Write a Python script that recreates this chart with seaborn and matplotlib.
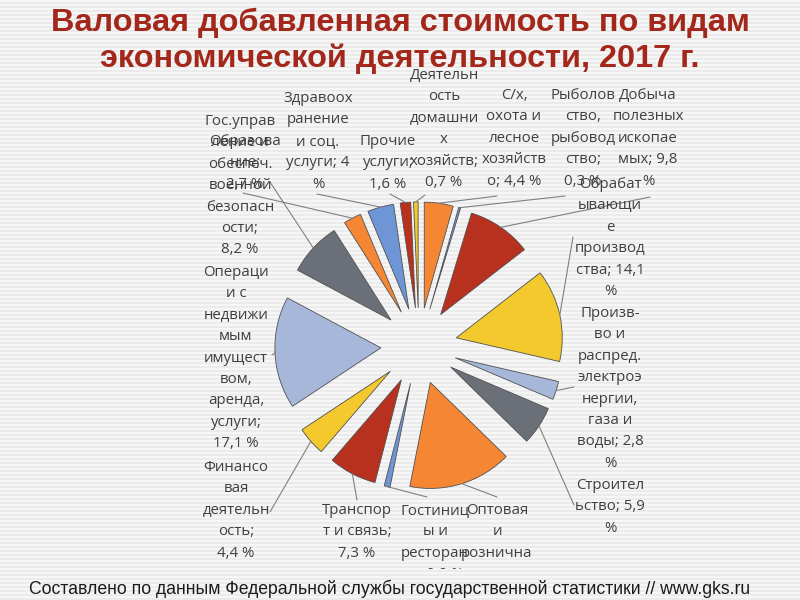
import numpy as np
import matplotlib
matplotlib.use("Agg")
import matplotlib.pyplot as plt
import seaborn as sns

sns.set_theme(style="white")
plt.rcParams['font.family'] = ['Open Sans', 'DejaVu Sans']

# ---------------- data ----------------
categories = [
    "С/х, охота и лесное хозяйство",
    "Рыболовство, рыбоводство",
    "Добыча полезных ископаемых",
    "Обрабатывающие производства",
    "Произв-во и распред. электроэнергии, газа и воды",
    "Строительство",
    "Оптовая и розничная торговля",
    "Гостиницы и рестораны",
    "Транспорт и связь",
    "Финансовая деятельность",
    "Операции с недвижимым имуществом, аренда, услуги",
    "Гос.управление и обеспеч. военной безопасности",
    "Образование",
    "Здравоохранение и соц. услуги",
    "Прочие услуги",
    "Деятельность домашних хозяйств",
]
shares = [4.4, 0.3, 9.8, 14.1, 2.8, 5.9, 15.8, 0.9, 7.3, 4.4, 17.1, 8.2, 2.7, 4.0, 1.6, 0.7]
label_texts = [
    "С/х,\nохота и\nлесное\nхозяйств\nо; 4,4 %",
    "Рыболов\nство,\nрыбовод\nство;\n0,3 %",
    "Добыча\nполезных\nископае\nмых; 9,8\n%",
    "Обрабат\nывающи\nе\nпроизвод\nства; 14,1\n%",
    "Произв-\nво и\nраспред.\nэлектроэ\nнергии,\nгаза и\nводы; 2,8\n%",
    "Строител\nьство; 5,9\n%",
    "Оптовая\nи\nрознична\nя\nторговля;\n15,8 %",
    "Гостиниц\nы и\nресторан\nы; 0,9 %",
    "Транспор\nт и связь;\n7,3 %",
    "Финансо\nвая\nдеятельн\nость;\n4,4 %",
    "Операци\nи с\nнедвижи\nмым\nимущест\nвом,\nаренда,\nуслуги;\n17,1 %",
    "Гос.управ\nление и\nобеспеч.\nвоенной\nбезопасн\nости;\n8,2 %",
    "Образова\nние;\n2,7 %",
    "Здравоох\nранение\nи соц.\nуслуги; 4\n%",
    "Прочие\nуслуги;\n1,6 %",
    "Деятельн\nость\nдомашни\nх\nхозяйств;\n0,7 %",
]
title_lines = ["Валовая добавленная стоимость по видам",
               "экономической деятельности, 2017 г."]
source_text = "Составлено по данным Федеральной службы государственной статистики // www.gks.ru"

# ---------------- layout (pixel coords, y from top) ----------------
label_pos = [(514, 95), (583, 95), (648, 95), (610, 184), (610, 313), (610, 485),
             (497, 510), (435, 510), (357, 510), (236, 467), (236, 272), (240, 121),
             (245, 141), (318, 98), (388, 141), (444, 75)]
leader_start = [(497, 196), (565, 196), (650, 197), (573, 237), (574, 387), (574, 505),
                (497, 497), (427, 497), (357, 500), (270, 512), (272, 355), (270, 182),
                (243, 193), (317, 194), (390, 194), (425, 195)]

base_colors = sns.color_palette(["#F58634", "#6E95D6", "#B8301E",
                                 "#F3C92E", "#A7B7D9", "#6B6F77"])
colors = [base_colors[i % 6] for i in range(len(shares))]

W, H = 800, 600
fig = plt.figure(figsize=(8, 6), dpi=100)

# striped slide background
rows = np.arange(H)
stripe = np.where((rows // 2) % 2 == 0, 0.968, 0.925)
bg = np.repeat(np.repeat(stripe[:, None, None], W, axis=1), 3, axis=2)
fig.figimage(bg, 0, 0, zorder=-5)

BOTTOM = 569
ax = fig.add_axes([0, (H - BOTTOM) / H, 1, BOTTOM / H])
ax.set_zorder(2)
ax.patch.set_alpha(0)

R = 106
center = (419, H - 346)
wedges, _ = ax.pie(shares, colors=colors, startangle=90, counterclock=False,
                   radius=R, center=center, explode=[0.36 * R] * len(shares),
                   wedgeprops=dict(edgecolor="#505050", linewidth=0.6))
ax.set_xlim(0, W)
ax.set_ylim(H - BOTTOM, H)
ax.set_aspect("equal")
ax.axis("off")

txt_color = "#404040"
for i, w in enumerate(wedges):
    mid = np.deg2rad((w.theta1 + w.theta2) / 2)
    ex = w.center[0] + w.r * np.cos(mid)
    ey = w.center[1] + w.r * np.sin(mid)
    sx, sy = leader_start[i]
    ax.plot([sx, ex], [H - sy, ey], color="#808080", lw=0.8, zorder=3)
    lx, ly = label_pos[i]
    ax.text(lx, H - ly + 7, label_texts[i], ha="center", va="top",
            multialignment="center", fontsize=10.8, color=txt_color,
            linespacing=1.58, clip_on=True, zorder=4)

for k, (line, yc) in enumerate(zip(title_lines, [23, 59])):
    fig.text(0.5, 1 - yc / H, line, ha="center", va="center", fontsize=23.4,
             fontweight="bold", color="#A3281B", family="Liberation Sans", zorder=5)
fig.text(390 / W, 1 - 589 / H, source_text, ha="center", va="center", fontsize=12.7,
         color="#1a1a1a", family="Liberation Sans", zorder=5)

fig.savefig("out.png", dpi=100)
